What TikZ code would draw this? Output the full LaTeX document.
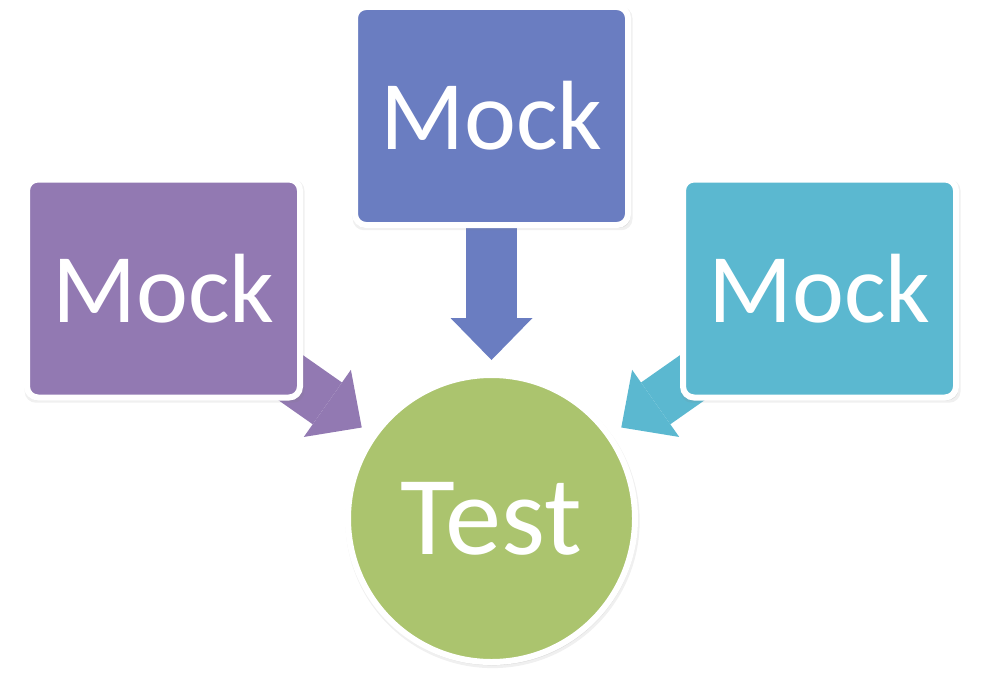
\documentclass[tikz,border=0pt]{standalone}
\usepackage{fontspec}
\setmainfont{Carlito}
\usetikzlibrary{arrows.meta,shadows,backgrounds}

\definecolor{mockblue}{HTML}{6A7DC1}
\definecolor{mockpurple}{HTML}{9279B2}
\definecolor{mockcyan}{HTML}{5BB8D0}
\definecolor{testgreen}{HTML}{ABC46E}

\begin{document}
\begin{tikzpicture}[
    softshadow/.style={
        drop shadow={opacity=0.12, shadow scale=1.025, shadow xshift=0.6pt, shadow yshift=-1.4pt},
        drop shadow={opacity=0.2, shadow scale=1.012, shadow xshift=0.4pt, shadow yshift=-0.9pt},
        drop shadow={opacity=0.25, shadow scale=1.004, shadow xshift=0.2pt, shadow yshift=-0.5pt}},
    mockbox/.style={draw=white, line width=0.12cm, rounded corners=0.22cm,
        minimum width=5.46cm, minimum height=4.36cm, text=white,
        font=\fontsize{56}{60}\selectfont, softshadow},
    testcircle/.style={circle, draw=white, line width=0.12cm,
        minimum size=5.74cm, text=white, font=\fontsize{64}{70}\selectfont,
        softshadow},
    blockarrow/.style={line width=1.02cm, shorten >=0.24cm,
        -{Triangle[length=0.84cm, width=1.64cm, line width=0pt]}}
]
    % Page size
    \useasboundingbox (0,0) rectangle (19.64,13.5);

    % Mocks
    \node[mockbox, fill=mockblue] (topmock) at (9.83,11.18) {Mock};
    \node[mockbox, fill=mockpurple] (leftmock) at (3.27,7.73) {Mock};
    \node[mockbox, fill=mockcyan] (rightmock) at (16.39,7.73) {Mock};

    % Test
    \node[testcircle, fill=testgreen] (test) at (9.83,3.13) {Test};

    % Block arrows, behind the boxes
    \begin{scope}[on background layer]
        \draw[blockarrow, mockblue] (topmock.center) -- (test);
        \draw[blockarrow, mockpurple] (leftmock.center) -- (test);
        \draw[blockarrow, mockcyan] (rightmock.center) -- (test);
    \end{scope}
\end{tikzpicture}
\end{document}
